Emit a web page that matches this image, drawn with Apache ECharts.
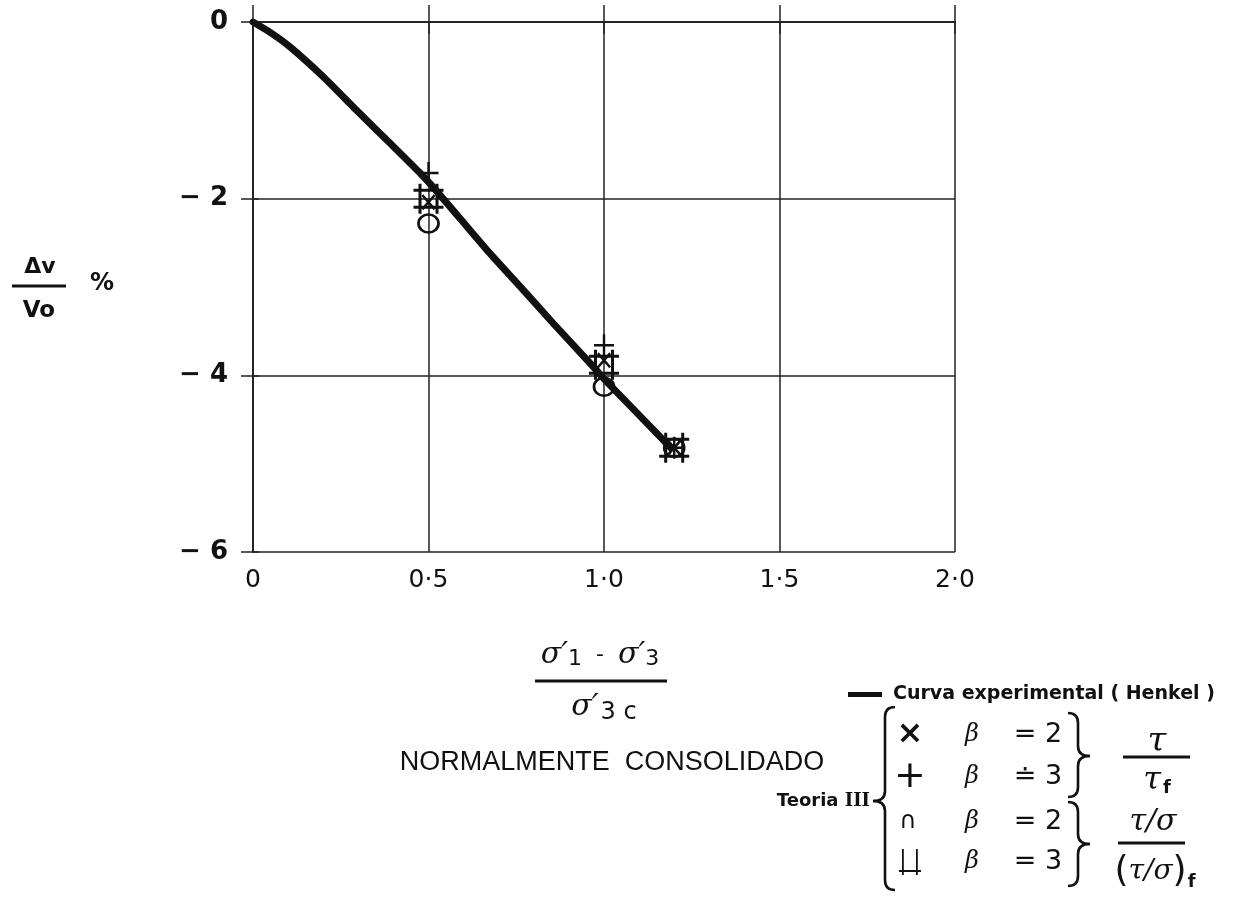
<!DOCTYPE html>
<html>
<head>
<meta charset="utf-8">
<script src="https://cdn.jsdelivr.net/npm/echarts@6/dist/echarts.min.js"></script>
<style>
  html, body { margin: 0; padding: 0; background: #fff; }
  #chart { width: 1254px; height: 910px; }
</style>
</head>
<body>
<div id="chart"></div>
<script>
// Experimental volume-change curve (Henkel), normally consolidated clay
const curveX = [0, 0.05, 0.105, 0.2, 0.295, 0.39, 0.476, 0.533, 0.666, 0.76, 0.855, 0.969, 1.0, 1.1, 1.19];
const curveY = [0, -0.12, -0.28, -0.62, -1.0, -1.37, -1.71, -1.96, -2.58, -2.99, -3.41, -3.9, -4.04, -4.45, -4.82];

// Theory III predictions at the test stress ratios
const ratioX = [0.5, 1.0, 1.2];
const crossB2 = [-2.04, -3.83, -4.82];   // τ/τf, β = 2
const plusB3 = [-1.71, -3.66, -4.82];    // τ/τf, β = 3
const circleB2 = [-2.28, -4.13, -4.82];  // (τ/σ)/(τ/σ)f, β = 2
const boxB3 = [-2.0, -3.88, -4.82];      // (τ/σ)/(τ/σ)f, β = 3

const xTickValues = [0, 0.5, 1.0, 1.5, 2.0];
const xTickLabels = ['0', '0·5', '1·0', '1·5', '2·0'];
const yTickValues = [0, -2, -4, -6];
const yTickLabels = ['0', '− 2', '− 4', '− 6'];

const curveName = 'Curva experimental ( Henkel )';

const pair = (xs, ys) => xs.map((x, i) => [x, ys[i]]);

const INK = '#111';
const GRID = '#222';

const PATH_BOX = 'path://M2,0h1.2v12h-1.2z M8.8,0h1.2v12h-1.2z M0,2h12v1.2h-12z M0,8.8h12v1.2h-12z';
const PATH_CROSS = 'path://M0,1.2L1.2,0L10,8.8L8.8,10Z M8.8,0L10,1.2L1.2,10L0,8.8Z';
const PATH_PLUS = 'path://M4.4,0h1.2v10h-1.2z M0,4.4h10v1.2h-10z';

const strokeStyle = w => ({ stroke: INK, fill: null, lineWidth: w || 2.6 });
const curveEl = (x1, y1, cx, cy, x2, y2, w) => ({
  type: 'bezierCurve', shape: { x1, y1, x2, y2, cpx1: cx, cpy1: cy }, style: strokeStyle(w)
});
const lineEl = (x1, y1, x2, y2, w) => ({
  type: 'line', shape: { x1, y1, x2, y2 }, style: { stroke: INK, lineWidth: w || 3 }
});
const textEl = (text, x, y, style) => ({
  type: 'text', x, y,
  style: Object.assign({ text, fill: INK, align: 'center', verticalAlign: 'middle' }, style)
});

// Curly brace from y1 to y2 along x, with its point at (tipX, ym).
// dir = 1 opens to the right ("{"), dir = -1 opens to the left ("}").
function brace(x, y1, y2, tipX, ym, dir) {
  const w = 10 * dir, r = 10;
  return [
    curveEl(x + w, y1, x, y1, x, y1 + r),
    lineEl(x, y1 + r, x, ym - r, 2.6),
    curveEl(x, ym - r, x, ym, tipX, ym),
    curveEl(tipX, ym, x, ym, x, ym + r),
    lineEl(x, ym + r, x, y2 - r, 2.6),
    curveEl(x, y2 - r, x, y2, x + w, y2)
  ];
}

const chart = echarts.init(document.getElementById('chart'), null, { renderer: 'canvas' });

const lineStyleGrid = { color: GRID, width: 1.5 };

const rowY = [735, 777, 822, 862];
const betaFont = 'italic 24px "DejaVu Serif"';
const numFont = '27px "DejaVu Sans"';
const markStyle = { color: INK, opacity: 1 };

const option = {
  backgroundColor: '#fff',
  animation: false,
  grid: { left: 253, right: 299, top: 22, bottom: 358, containLabel: false },
  legend: {
    data: [{ name: curveName, icon: 'rect' }],
    left: 843, top: 680,
    itemWidth: 34, itemHeight: 5, itemGap: 4,
    textStyle: { fontFamily: '"DejaVu Sans"', fontWeight: 'bold', fontSize: 19, color: INK, padding: [0, 0, 0, 6] }
  },
  xAxis: [
    {
      type: 'value', min: 0, max: 2, interval: 0.5, position: 'bottom',
      axisLine: { show: true, lineStyle: lineStyleGrid },
      axisTick: { show: true, length: 12, lineStyle: lineStyleGrid },
      splitLine: { show: true, lineStyle: lineStyleGrid },
      axisLabel: {
        margin: 16, fontSize: 25, color: INK, fontFamily: '"DejaVu Sans"',
        formatter: v => { const i = xTickValues.findIndex(t => Math.abs(t - v) < 1e-6); return i >= 0 ? xTickLabels[i] : ''; }
      }
    },
    {
      type: 'value', min: 0, max: 2, interval: 0.5, position: 'top',
      axisLine: { show: true, lineStyle: lineStyleGrid },
      axisTick: { show: true, length: 17, lineStyle: lineStyleGrid },
      splitLine: { show: false }, axisLabel: { show: false }
    }
  ],
  yAxis: [
    {
      type: 'value', min: -6, max: 0, interval: 2, position: 'left',
      axisLine: { show: true, lineStyle: lineStyleGrid },
      axisTick: { show: true, length: 12, lineStyle: lineStyleGrid },
      splitLine: { show: true, lineStyle: lineStyleGrid },
      axisLabel: {
        margin: 25, fontSize: 26, fontWeight: 'bold', color: INK, fontFamily: '"DejaVu Sans"',
        formatter: v => { const i = yTickValues.findIndex(t => Math.abs(t - v) < 1e-6); return i >= 0 ? yTickLabels[i] : ''; }
      }
    },
    {
      type: 'value', min: -6, max: 0, interval: 2, position: 'right',
      axisLine: { show: true, lineStyle: lineStyleGrid },
      axisTick: { show: true, length: 6, lineStyle: lineStyleGrid },
      splitLine: { show: false }, axisLabel: { show: false }
    }
  ],
  series: [
    {
      name: curveName, type: 'line', data: pair(curveX, curveY),
      smooth: 0.2, showSymbol: false, symbol: 'none', z: 3,
      lineStyle: { color: INK, width: 7, cap: 'round', join: 'round' }, itemStyle: { color: INK }
    },
    {
      name: 'β = 3  (τ/σ)', type: 'scatter', data: pair(ratioX, boxB3), z: 4,
      symbol: PATH_BOX, symbolSize: [30, 30], itemStyle: markStyle
    },
    {
      name: 'β = 2  (τ/σ)', type: 'scatter', data: pair(ratioX, circleB2), z: 4,
      symbol: 'circle', symbolSize: [20, 18],
      itemStyle: { color: 'rgba(255,255,255,0)', borderColor: INK, borderWidth: 2.6, opacity: 1 }
    },
    {
      name: 'β = 2  τ/τf', type: 'scatter', data: pair(ratioX, crossB2), z: 4,
      symbol: PATH_CROSS, symbolSize: [14, 16], itemStyle: markStyle
    },
    {
      name: 'β = 3  τ/τf', type: 'scatter', data: pair(ratioX, plusB3), z: 4,
      symbol: PATH_PLUS, symbolSize: [20, 22], itemStyle: markStyle
    }
  ],
  graphic: [
    // y-axis title: Δv / Vo %
    textEl('Δv', 40, 267, { font: 'bold 22px "DejaVu Sans"' }),
    lineEl(12, 286, 66, 286, 3),
    textEl('Vo', 39, 311, { font: 'bold 23px "DejaVu Sans"' }),
    textEl('%', 102, 284, { font: 'bold 24px "DejaVu Sans"' }),

    // x-axis title: (σ'1 − σ'3) / σ'3c
    {
      type: 'text', x: 600, y: 655,
      style: {
        text: '{s|σ′}{n|1}{m|  -  }{s|σ′}{n|3}', align: 'center', verticalAlign: 'middle', fill: INK,
        rich: {
          s: { font: 'italic 30px "DejaVu Serif"', fill: INK },
          n: { font: '22px "DejaVu Sans"', fill: INK, padding: [8, 0, 0, 0] },
          m: { font: '22px "DejaVu Sans"', fill: INK }
        }
      }
    },
    lineEl(535, 681, 667, 681, 3),
    {
      type: 'text', x: 604, y: 707,
      style: {
        text: '{s|σ′}{n|3 c}', align: 'center', verticalAlign: 'middle', fill: INK,
        rich: {
          s: { font: 'italic 30px "DejaVu Serif"', fill: INK },
          n: { font: '24px "DejaVu Sans"', fill: INK, padding: [12, 0, 0, 2] }
        }
      }
    },

    // condition label
    textEl('NORMALMENTE  CONSOLIDADO', 612, 763, { font: '27px "Liberation Sans"' }),

    // Teoria III block
    {
      type: 'text', x: 870, y: 801,
      style: {
        text: '{t|Teoria }{r|III}', align: 'right', verticalAlign: 'middle', fill: INK,
        rich: {
          t: { font: 'bold 18px "DejaVu Sans"', fill: INK },
          r: { font: 'bold 18px "DejaVu Serif"', fill: INK }
        }
      }
    },
    ...brace(885, 707, 890, 873, 801, 1),

    textEl('×', 910, rowY[0], { font: 'bold 32px "DejaVu Sans"' }),
    textEl('+', 910, rowY[1], { font: '38px "DejaVu Sans"' }),
    textEl('∩', 908, rowY[2], { font: '24px "DejaVu Sans"' }),
    // open-box glyph (β = 3, τ/σ)
    { type: 'rect', shape: { x: 902, y: 849, width: 1.8, height: 26 }, style: { fill: INK } },
    { type: 'rect', shape: { x: 916, y: 849, width: 1.8, height: 26 }, style: { fill: INK } },
    { type: 'rect', shape: { x: 899, y: 870, width: 22, height: 2 }, style: { fill: INK } },

    textEl('β', 972, rowY[0], { font: betaFont }),
    textEl('β', 972, rowY[1], { font: betaFont }),
    textEl('β', 972, rowY[2], { font: betaFont }),
    textEl('β', 972, rowY[3], { font: betaFont }),

    textEl('= 2', 1038, rowY[0], { font: numFont }),
    textEl('≐ 3', 1038, rowY[1], { font: numFont }),
    textEl('= 2', 1038, rowY[2], { font: numFont }),
    textEl('= 3', 1038, rowY[3], { font: numFont }),

    ...brace(1078, 713, 797, 1090, 756, -1),
    ...brace(1078, 802, 886, 1090, 844, -1),

    // τ / τf
    textEl('τ', 1157, 742, { font: 'italic 34px "DejaVu Serif"' }),
    lineEl(1123, 757, 1190, 757, 3),
    {
      type: 'text', x: 1157, y: 781,
      style: {
        text: '{s|τ}{f|f}', align: 'center', verticalAlign: 'middle', fill: INK,
        rich: {
          s: { font: 'italic 32px "DejaVu Serif"', fill: INK },
          f: { font: 'bold 18px "DejaVu Sans"', fill: INK, padding: [14, 0, 0, 2] }
        }
      }
    },

    // (τ/σ) / (τ/σ)f
    textEl('τ/σ', 1153, 822, { font: 'italic 30px "DejaVu Serif"' }),
    lineEl(1118, 843, 1185, 843, 3),
    {
      type: 'text', x: 1155, y: 872,
      style: {
        text: '{p|(}{s|τ/σ}{p|)}{f|f}', align: 'center', verticalAlign: 'middle', fill: INK,
        rich: {
          p: { font: '36px "DejaVu Sans"', fill: INK },
          s: { font: 'italic 28px "DejaVu Serif"', fill: INK },
          f: { font: 'bold 18px "DejaVu Sans"', fill: INK, padding: [20, 0, 0, 1] }
        }
      }
    }
  ]
};

chart.setOption(option);
</script>
</body>
</html>
